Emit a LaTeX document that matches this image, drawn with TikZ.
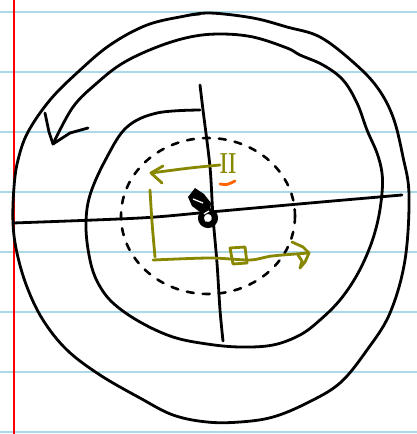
\documentclass[tikz,border=0pt]{standalone}
\usepackage{tikz}
\definecolor{ruleblue}{RGB}{173,216,230}
\definecolor{marginred}{RGB}{255,0,0}
\definecolor{pen}{RGB}{0,0,0}
\definecolor{olivepen}{RGB}{135,135,0}
\definecolor{orangepen}{RGB}{255,100,0}
\tikzset{
  ink/.style={draw=pen, line width=2.8pt, line cap=round, line join=round},
  olive ink/.style={draw=olivepen, line width=2.8pt, line cap=round, line join=round},
  rule/.style={draw=ruleblue, line width=2.2pt},
}
\begin{document}
\begin{tikzpicture}[x=1pt,y=-1pt]
\useasboundingbox (0,0) rectangle (417,434);
\fill[white] (0,0) rectangle (417,434);
% ruled paper
\foreach \yy in {12,72,132,192,252,312,372,432}{
  \draw[rule] (0,\yy) -- (417,\yy);
}
\draw[draw=marginred, line width=2.6pt] (14,0) -- (14,434);

% outer loop
\draw[ink] plot[smooth, tension=0.6] coordinates {
 (185,16) (210,13) (253,18) (287,27) (320,37) (353,62) (377,87) (393,117)
 (403,157) (409,195) (405,260) (390,313) (367,350) (340,383) (307,403)
 (273,417) (240,422) (207,422) (173,415) (140,398) (100,375)
 (67,350) (43,320) (27,287) (17,253) (13,223) (14,187) (18,160) (28,132)
 (50,100) (78,72) (110,45) (147,25) (185,16) (200,14)};

% spiral with arrow
\coordinate (spstart) at (200,110);
\coordinate (spend) at (53,144);
\draw[ink] plot[smooth, tension=0.6] coordinates {
 (spstart) (157,113) (127,127) (107,157) (90,195) (86,227) (90,260) (98,283)
 (113,303) (140,322) (173,337) (207,344) (240,347) (273,345) (300,335)
 (320,320) (340,300) (357,275) (370,247) (378,220) (382,193) (382,173)
 (377,153) (367,130) (357,103) (343,80) (323,65) (300,55) (287,48)
 (253,37) (220,34) (190,37) (157,47) (123,63) (97,83) (73,107) (spend)};
\draw[ink] (45,113) -- (49,132) -- (spend) -- (70,133) -- (88,128);

% axes
\coordinate (hL) at (13,223);
\coordinate (hR) at (402,195);
\draw[ink] plot[smooth] coordinates {(hL) (140,218) (210,212) (310,203) (hR)};
\coordinate (vT) at (200,85);
\coordinate (vB) at (223,341);
\draw[ink] plot[smooth] coordinates {(vT) (203,110) (210,167) (213,217) (217,263) (220,310) (vB)};

% dashed circle
\draw[draw=pen, line width=2.6pt, line cap=round, dash pattern=on 7pt off 9pt]
  (208,216) ellipse [x radius=87, y radius=78];

% olive arrows
\coordinate (oa1) at (220,165);
\coordinate (oa2) at (151,173);
\draw[olive ink] plot[smooth] coordinates {(oa1) (190,168) (oa2)};
\draw[olive ink] (163,166) -- (oa2) -- (162,183);
\coordinate (ov1) at (150,190);
\coordinate (ov2) at (155,257);
\draw[olive ink] plot[smooth] coordinates {(ov1) (152,222) (ov2)};
\coordinate (ob1) at (153,260);
\coordinate (ob2) at (309,253);
\draw[olive ink] plot[smooth] coordinates {(ob1) (210,258) (250,260) (272,256) (ob2)};
\draw[olive ink] (292,242) -- (303,247) -- (ob2) -- (305,262) -- (300,268) -- (302,261) -- (298,255);
\draw[olive ink] (230,248) -- (245,247) -- (247,263) -- (233,264) -- cycle;

% roman numeral
\node[text=olivepen, inner sep=0pt, font=\fontsize{29}{29}\selectfont\bfseries] (num) at (228,164) {\scalebox{0.65}[1]{II}};
% orange mark
\draw[draw=orangepen, line width=2.8pt, line cap=round] (220,184) .. controls (227,185) .. (235,181);

% black blob
\fill[pen] (188,197) -- (195,188) -- (204,194) -- (211,203) -- (210,211) -- (200,212) -- (192,206) -- cycle;
\draw[draw=pen, line width=6pt] (208,218) circle [radius=7];
\draw[draw=white, line width=1.3pt] (193,199) -- (203,203);
\draw[draw=white, line width=1.3pt] (204,214) -- (209,211);
\draw[draw=white, line width=1.3pt] (205,221) -- (211,217);
\end{tikzpicture}
\end{document}
